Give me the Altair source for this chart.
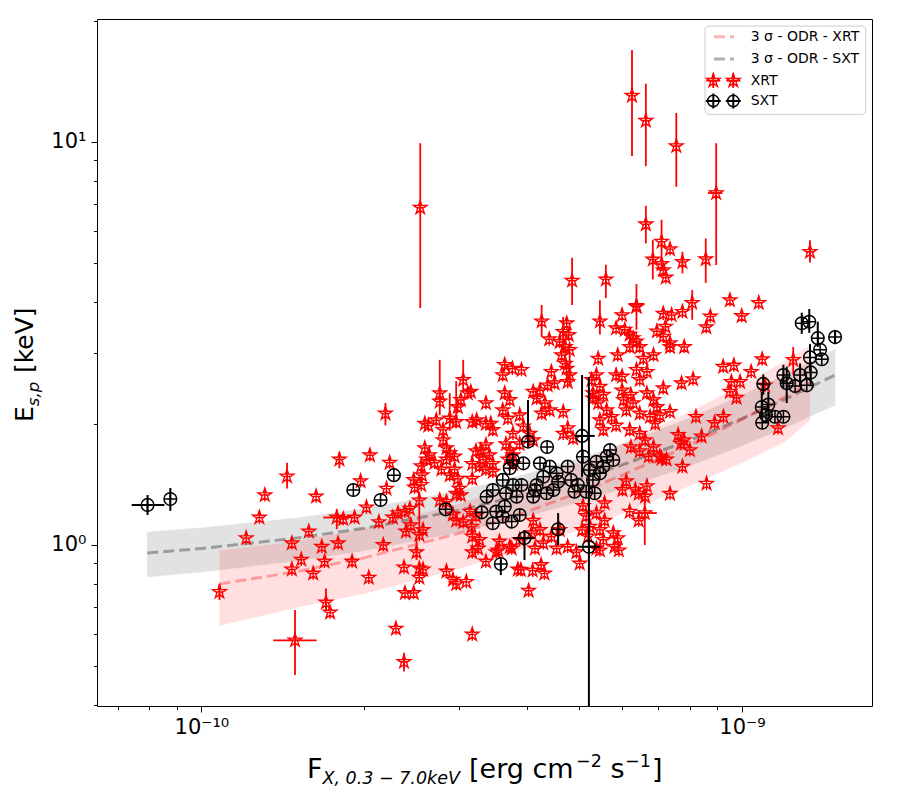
import altair as alt
import pandas as pd

# ---------------- data (flux in units of 1e-10 erg cm^-2 s^-1, Ep in keV) ----------------
xrt_points = [
    (1.80, 1.63), (1.44, 1.48), (1.31, 1.33), (1.63, 1.32), (1.28, 1.17), (1.21, 1.04), (1.47, 1.01),
    (1.58, 1.08), (1.78, 1.17), (1.92, 1.17), (1.67, 0.99), (1.79, 1.01), (1.53, 0.92), (1.47, 0.87),
    (1.69, 0.91), (1.61, 0.85), (1.90, 0.91), (1.08, 0.765), (1.70, 0.72), (1.73, 0.68), (1.49, 0.58),
    (2.19, 2.12), (2.05, 1.67), (2.23, 1.60), (1.97, 1.44), (2.20, 1.38), (2.02, 1.24), (1.83, 1.16),
    (2.13, 1.14), (2.17, 1.00), (2.04, 0.83), (2.29, 0.62), (2.37, 0.88), (2.38, 0.76), (2.47, 0.76),
    (2.53, 0.875), (2.57, 0.87), (2.50, 0.96), (2.53, 1.06), (2.57, 1.09), (2.39, 1.08), (2.44, 1.12),
    (2.26, 1.17), (2.31, 1.20), (2.38, 1.21), (2.43, 1.23), (2.53, 1.29), (2.47, 1.45), (2.55, 1.41),
    (2.48, 1.39), (2.59, 1.74), (2.61, 1.63), (2.64, 1.67), (2.70, 1.60), (2.55, 1.57), (2.56, 1.49),
    (2.59, 2.00), (2.63, 1.98), (2.76, 2.38), (2.76, 2.27), (2.72, 2.04), (2.80, 1.93), (2.88, 2.06),
    (2.96, 2.02), (2.80, 1.82), (2.84, 1.74), (2.88, 1.69), (2.94, 1.66), (2.84, 1.63), (2.78, 1.54),
    (2.88, 1.49), (2.94, 1.54), (2.98, 1.46), (2.76, 1.29), (2.84, 1.28), (2.96, 1.34), (3.02, 1.33),
    (3.00, 1.38), (2.92, 1.19), (2.96, 1.15), (3.05, 1.14), (2.84, 0.86), (2.92, 0.82), (2.96, 0.80),
    (3.09, 0.81), (3.05, 2.57), (3.11, 2.38), (3.15, 2.40), (3.02, 2.29), (2.98, 2.20), (3.17, 2.02),
    (3.23, 2.04), (3.36, 2.00), (3.43, 2.00), (3.46, 1.93), (3.36, 2.25), (3.22, 1.71), (3.29, 1.72),
    (3.36, 1.77), (3.41, 1.67), (3.46, 1.59), (3.32, 1.63), (3.17, 1.59), (3.27, 1.57), (3.36, 1.54),
    (3.46, 1.52), (3.17, 1.46), (3.14, 1.21), (3.22, 1.18), (3.16, 1.11), (3.17, 1.05), (3.27, 1.03),
    (3.25, 0.98), (3.17, 0.96), (3.36, 0.91), (3.51, 0.96), (3.56, 1.02), (3.76, 2.74), (3.64, 2.38),
    (3.72, 2.29), (3.61, 2.16), (3.69, 2.06), (3.66, 1.78), (3.72, 1.72), (3.77, 1.67), (3.69, 1.63),
    (3.77, 1.59), (3.75, 0.98), (3.17, 0.60), (3.85, 0.87),
    (2.53, 0.83), (2.37, 0.513), (3.54, 0.97), (3.90, 0.867), (4.10, 0.864), (4.25, 0.892), (4.31, 0.85),
    (4.03, 0.77), (4.54, 0.98), (4.94, 0.96), (5.01, 0.90), (5.38, 0.98), (5.92, 0.97),
    (4.26, 3.59), (4.40, 3.24), (4.67, 3.38), (4.78, 3.32), (4.60, 3.19), (4.71, 3.10), (4.80, 3.05),
    (4.64, 2.96), (4.71, 2.82), (4.74, 2.74), (4.80, 2.64), (4.76, 2.54), (5.46, 3.59), (6.38, 3.90),
    (6.00, 3.72), (5.85, 3.45), (6.07, 3.42), (6.20, 3.33), (6.29, 3.26), (6.38, 3.20), (6.47, 3.10),
    (6.20, 3.10), (7.15, 3.75), (7.41, 3.72), (7.22, 3.48), (6.96, 3.39), (7.15, 3.29), (7.36, 3.17),
    (6.86, 2.96), (6.57, 2.90), (6.38, 2.72), (6.67, 2.69), (6.47, 2.57), (5.89, 2.96), (5.85, 2.64),
    (6.00, 2.62), (5.42, 2.90), (5.38, 2.64), (5.27, 2.57), (5.46, 2.47), (5.30, 2.38), (5.54, 2.36),
    (5.42, 2.25), (5.30, 2.31), (3.64, 2.80), (3.91, 2.72), (3.61, 2.64), (4.44, 2.69), (4.37, 2.49),
    (4.50, 2.52), (4.11, 2.40), (4.23, 2.42), (4.17, 2.31), (4.32, 2.25), (4.41, 2.16), (4.67, 2.14),
    (4.26, 2.12), (6.00, 2.42), (6.23, 2.36), (6.04, 2.29), (6.29, 2.25), (6.11, 2.16), (6.47, 2.12),
    (6.67, 2.38), (6.86, 2.29), (7.15, 2.45), (6.96, 2.20), (7.36, 2.14), (7.05, 2.10), (6.76, 2.08),
    (6.91, 2.00), (5.62, 2.16), (5.74, 2.08), (5.85, 1.98), (5.46, 2.04), (5.54, 1.93), (4.76, 1.95),
    (4.67, 1.89), (4.87, 1.84), (3.88, 2.10), (3.94, 1.97), (4.05, 1.89), (4.11, 1.82), (3.77, 1.89),
    (3.88, 1.78), (6.20, 1.93), (6.47, 1.89), (6.62, 1.82), (6.86, 1.75), (6.72, 1.66), (7.05, 1.66),
    (7.25, 1.63), (6.47, 1.71), (6.23, 1.75), (6.11, 1.44), (6.01, 1.37), (6.35, 1.37), (6.44, 1.34),
    (6.67, 1.40), (6.62, 1.32), (6.61, 1.20), (6.20, 1.21), (6.44, 1.15), (7.36, 1.34), (5.78, 1.07),
    (5.89, 1.04), (5.81, 0.99), (5.38, 1.20), (5.57, 1.15), (5.46, 1.09), (5.54, 1.03), (5.08, 1.25),
    (5.15, 1.18), (5.23, 1.11), (5.06, 1.09), (5.19, 1.05), (4.60, 1.09), (4.44, 1.05), (4.76, 0.99),
    (4.11, 1.15), (4.23, 1.09), (4.08, 1.07), (4.29, 1.01), (4.14, 0.98), (3.72, 0.99), (3.88, 1.03),
    (8.60, 1.42), (5.57, 1.27), (5.46, 0.97),
    (13.36, 5.34), (7.10, 5.66), (7.36, 5.42), (7.76, 5.04), (8.57, 5.12), (7.10, 4.98), (7.15, 4.81),
    (7.23, 4.61), (9.50, 4.05), (10.74, 3.99), (9.99, 3.70), (8.09, 3.99), (7.76, 3.79), (8.74, 3.69),
    (8.59, 3.47), (7.36, 3.10), (7.82, 3.10), (12.44, 2.88), (10.90, 2.89), (9.23, 2.77), (9.66, 2.79),
    (10.40, 2.69), (9.56, 2.54), (9.92, 2.54), (7.73, 2.52), (8.12, 2.58), (9.50, 2.40), (9.77, 2.32),
    (11.03, 2.49), (8.22, 2.08), (8.90, 2.01), (9.24, 2.08), (7.62, 1.875), (7.81, 1.82), (7.71, 1.785),
    (8.01, 1.72), (8.42, 1.86), (7.10, 1.64), (7.76, 1.565), (11.66, 1.95),
    (2.54, 6.87), (6.26, 13.03), (6.64, 11.29), (7.56, 9.77), (6.64, 6.25), (6.84, 5.11), (4.85, 4.53),
    (5.60, 4.56), (6.38, 3.92), (4.74, 3.55), (8.96, 7.47),
]

# vertical error bars of XRT points: (flux, Ep low, Ep high)
xrt_vbars = [
    (1.44, 1.38, 1.60), (1.08, 0.73, 0.80), (1.70, 0.69, 0.78), (1.78, 1.095, 1.228), (1.49, 0.476, 0.69),
    (1.80, 1.55, 1.70), (2.19, 1.98, 2.25), (2.76, 2.10, 2.88), (2.53, 1.09, 1.35), (2.37, 0.485, 0.54),
    (2.50, 0.918, 1.029), (2.88, 1.92, 2.38), (2.96, 1.95, 2.55), (3.05, 2.40, 2.88), (4.26, 3.29, 3.94),
    (4.67, 3.05, 3.68), (4.80, 2.49, 2.97), (5.46, 3.33, 4.05), (6.61, 1.00, 1.37), (13.36, 5.02, 5.70),
    (7.10, 5.10, 6.41), (7.76, 4.72, 5.34), (8.57, 4.47, 5.76), (8.09, 3.62, 4.29), (2.54, 3.87, 9.93),
    (6.26, 9.23, 16.92), (6.64, 8.71, 13.95), (7.56, 7.74, 11.80), (6.64, 5.60, 6.94), (6.84, 4.56, 5.71),
    (4.85, 3.94, 5.16), (5.60, 4.10, 4.96), (6.38, 3.42, 4.44), (8.96, 4.95, 9.93), (12.44, 2.65, 3.10),
]
# horizontal error bars of XRT points: (Ep, flux low, flux high)
xrt_hbars = [
    (1.17, 1.68, 1.86), (0.58, 1.358, 1.633), (1.20, 6.29, 6.96), (7.47, 8.65, 9.20),
]

sxt_points = [
    (0.795, 1.257), (0.876, 1.30), (1.91, 1.369), (2.145, 1.293), (2.27, 1.49), (2.83, 1.226),
    (3.30, 1.205), (3.58, 0.897), (3.37, 1.318), (3.46, 1.369), (3.51, 1.21), (3.46, 1.132),
    (5.06, 1.865), (5.21, 0.99), (4.02, 1.805), (4.36, 1.75), (3.96, 1.04), (4.57, 1.094), (3.88, 1.187),
    (3.77, 1.625), (3.94, 1.594), (3.72, 1.55), (3.61, 1.45), (3.77, 1.409), (3.91, 1.409), (3.66, 1.344),
    (3.83, 1.318), (3.64, 1.245), (3.61, 1.175), (3.75, 1.143), (4.11, 1.318), (4.17, 1.409),
    (4.29, 1.477), (4.41, 1.565), (4.54, 1.506), (4.57, 1.436), (4.48, 1.369), (4.35, 1.344),
    (4.76, 1.565), (4.83, 1.45), (4.90, 1.356), (4.97, 1.409), (5.08, 1.656), (5.23, 1.535),
    (5.30, 1.45), (5.38, 1.609), (5.46, 1.506), (5.34, 1.344), (5.15, 1.356), (5.54, 1.565),
    (5.62, 1.656), (5.70, 1.72), (5.78, 1.625), (4.23, 1.594), (4.14, 1.369),
    (12.9, 3.55), (13.32, 3.58), (13.81, 3.26), (14.87, 3.28), (13.95, 3.05), (14.05, 2.89),
    (13.36, 2.92), (13.40, 2.68), (11.93, 2.64), (12.1, 2.52), (12.81, 2.64), (12.54, 2.48),
    (13.18, 2.49), (10.95, 2.51), (10.88, 2.20), (11.19, 2.23), (11.08, 2.10), (11.51, 2.08),
    (11.93, 2.08), (10.90, 2.01),
]
sxt_vbars = [
    (0.795, 1.187, 1.33), (0.876, 1.215, 1.385), (3.58, 0.842, 0.918), (5.06, 1.477, 2.64),
    (5.21, 0.30, 2.61), (4.02, 1.755, 2.29), (3.96, 0.918, 1.089), (4.57, 1.00, 1.20),
    (12.9, 3.34, 3.77), (13.32, 3.36, 3.85), (12.1, 2.25, 2.77), (10.95, 2.36, 2.65),
    (13.81, 3.10, 3.58), (14.87, 3.15, 3.42), (13.36, 2.70, 3.15), (13.40, 2.50, 2.85),
    (11.93, 2.45, 2.80), (12.81, 2.47, 2.82), (11.19, 2.05, 2.40), (10.88, 2.08, 2.40),
]
sxt_hbars = [
    (1.257, 0.743, 0.854), (1.865, 4.95, 5.34), (0.99, 4.97, 5.46), (1.04, 3.77, 4.14),
]

# 3-sigma ODR fits: flux, lower, line, upper
xrt_fit_flux = [1.08, 1.5, 2, 3, 4, 5, 6, 8, 10, 12, 13.36]
xrt_fit_line = [0.80, 0.859, 0.929, 1.069, 1.209, 1.349, 1.489, 1.769, 2.049, 2.329, 2.52]
xrt_fit_lo = [0.63, 0.70, 0.757, 0.873, 0.984, 1.09, 1.196, 1.40, 1.60, 1.80, 2.04]
xrt_fit_hi = [0.97, 1.02, 1.10, 1.265, 1.434, 1.607, 1.782, 2.137, 2.495, 2.855, 3.12]

sxt_fit_flux = [0.794, 1, 1.5, 2, 3, 4, 5, 6, 8, 10, 12, 14.87]
sxt_fit_line = [0.955, 0.98, 1.04, 1.10, 1.219, 1.339, 1.459, 1.579, 1.818, 2.058, 2.298, 2.641]
sxt_fit_lo = [0.833, 0.857, 0.913, 0.968, 1.074, 1.178, 1.278, 1.378, 1.571, 1.763, 1.952, 2.222]
sxt_fit_hi = [1.077, 1.103, 1.167, 1.232, 1.364, 1.50, 1.64, 1.78, 2.065, 2.353, 2.644, 3.06]

x_ticks = [7e-11, 8e-11, 9e-11, 1e-10, 2e-10, 3e-10, 4e-10, 5e-10, 6e-10, 7e-10, 8e-10, 9e-10, 1e-9]
y_ticks = [0.4, 0.5, 0.6, 0.7, 0.8, 0.9, 1, 2, 3, 4, 5, 6, 7, 8, 9, 10, 20]

legend_labels = ["3 σ - ODR - XRT", "3 σ - ODR - SXT", "XRT", "SXT"]

# ---------------- tables ----------------
U = 1e-10
xrt_df = pd.DataFrame({"flux": [p[0] * U for p in xrt_points], "ep": [p[1] for p in xrt_points]})
sxt_df = pd.DataFrame({"flux": [p[0] * U for p in sxt_points], "ep": [p[1] for p in sxt_points]})
xrt_vb = pd.DataFrame({"flux": [b[0] * U for b in xrt_vbars], "lo": [b[1] for b in xrt_vbars], "hi": [b[2] for b in xrt_vbars]})
xrt_hb = pd.DataFrame({"ep": [b[0] for b in xrt_hbars], "lo": [b[1] * U for b in xrt_hbars], "hi": [b[2] * U for b in xrt_hbars]})
sxt_vb = pd.DataFrame({"flux": [b[0] * U for b in sxt_vbars], "lo": [b[1] for b in sxt_vbars], "hi": [b[2] for b in sxt_vbars]})
sxt_hb = pd.DataFrame({"ep": [b[0] for b in sxt_hbars], "lo": [b[1] * U for b in sxt_hbars], "hi": [b[2] * U for b in sxt_hbars]})
xrt_fit = pd.DataFrame({"flux": [f * U for f in xrt_fit_flux], "line": xrt_fit_line, "lo": xrt_fit_lo, "hi": xrt_fit_hi})
sxt_fit = pd.DataFrame({"flux": [f * U for f in sxt_fit_flux], "line": sxt_fit_line, "lo": sxt_fit_lo, "hi": sxt_fit_hi})

# ---------------- scales / axes ----------------
FONT = "DejaVu Sans"
xscale = alt.Scale(type="log", domain=[6.41e-11, 1.74e-9], nice=False)
yscale = alt.Scale(type="log", domain=[0.3985, 20.19], nice=False)
major_test = "abs(log(datum.value)/LN10 - round(log(datum.value)/LN10)) < 0.001"
xaxis = alt.Axis(
    title="", values=x_ticks, grid=False, domain=False,
    labelExpr="abs(log(datum.value)/LN10 + 10) < 0.01 ? '10⁻¹⁰' : (abs(log(datum.value)/LN10 + 9) < 0.01 ? '10⁻⁹' : '')",
    tickSize={"condition": {"test": major_test, "value": 6}, "value": 3.5},
    tickColor="black", tickWidth=1, labelFont=FONT, labelFontSize=21, labelColor="black",
    labelPadding=4, labelOverlap=False, labelFlush=False, labelBound=False,
)
yaxis = alt.Axis(
    title="", values=y_ticks, grid=False, domain=False,
    labelExpr="abs(log(datum.value)/LN10) < 0.01 ? '10⁰' : (abs(log(datum.value)/LN10 - 1) < 0.01 ? '10¹' : '')",
    tickSize={"condition": {"test": major_test, "value": 6}, "value": 3.5},
    tickColor="black", tickWidth=1, labelFont=FONT, labelFontSize=21, labelColor="black",
    labelPadding=5, labelOverlap=False, labelFlush=False, labelBound=False,
)

def X(field):
    return alt.X(field, type="quantitative", scale=xscale, axis=xaxis)

def Y(field):
    return alt.Y(field, type="quantitative", scale=yscale, axis=yaxis)

STAR = ("M0,-1L0.225,-0.309L0.951,-0.309L0.363,0.118L0.588,0.809L0,0.382L-0.588,0.809"
        "L-0.363,0.118L-0.951,-0.309L-0.225,-0.309ZM0,-1L0,0.9M-0.55,0L0.55,0")
PLUS = "M-1,0L1,0M0,-1L0,1"
STAR_SIZE = 200
CIRC_SIZE = 160

# ---------------- layers ----------------
sxt_band = alt.Chart(sxt_fit).mark_area(color="#808080", opacity=0.22, stroke="#808080", strokeOpacity=0.3, strokeWidth=1).encode(
    x=X("flux"), y=Y("lo"), y2="hi")
xrt_band = alt.Chart(xrt_fit).mark_area(color="red", opacity=0.12, stroke="red", strokeOpacity=0.12, strokeWidth=1).encode(
    x=X("flux"), y=Y("lo"), y2="hi")
sxt_line = alt.Chart(sxt_fit).mark_line(color="black", opacity=0.31, strokeWidth=3, strokeDash=[11, 5]).encode(
    x=X("flux"), y=Y("line"))
xrt_line = alt.Chart(xrt_fit).mark_line(color="red", opacity=0.3, strokeWidth=3, strokeDash=[11, 5]).encode(
    x=X("flux"), y=Y("line"))

xrt_v = alt.Chart(xrt_vb).mark_rule(color="red", strokeWidth=1.8, clip=True).encode(x=X("flux"), y=Y("lo"), y2="hi")
xrt_h = alt.Chart(xrt_hb).mark_rule(color="red", strokeWidth=1.8, clip=True).encode(x=X("lo"), x2="hi", y=Y("ep"))
xrt_pts = alt.Chart(xrt_df).mark_point(shape=STAR, size=STAR_SIZE, filled=False, color="red", strokeWidth=1.4, opacity=1).encode(
    x=X("flux"), y=Y("ep"))

sxt_v = alt.Chart(sxt_vb).mark_rule(color="black", strokeWidth=2, clip=True).encode(x=X("flux"), y=Y("lo"), y2="hi")
sxt_h = alt.Chart(sxt_hb).mark_rule(color="black", strokeWidth=2, clip=True).encode(x=X("lo"), x2="hi", y=Y("ep"))
sxt_c = alt.Chart(sxt_df).mark_point(shape="circle", size=CIRC_SIZE, filled=False, color="black", strokeWidth=1.5, opacity=1).encode(
    x=X("flux"), y=Y("ep"))
sxt_p = alt.Chart(sxt_df).mark_point(shape=PLUS, size=CIRC_SIZE, filled=False, color="black", strokeWidth=1.5, opacity=1).encode(
    x=X("flux"), y=Y("ep"))

# ---------------- legend (drawn inside the plot, upper right) ----------------
one = pd.DataFrame({"k": [0]})
lg_box = alt.Chart(one).mark_rect(fill="white", fillOpacity=0.85, stroke="#cccccc", strokeWidth=1, cornerRadius=4).encode(
    x=alt.value(608), x2=alt.value(768.7), y=alt.value(7), y2=alt.value(95.3))
lg_pink = alt.Chart(one).mark_rule(color="red", opacity=0.3, strokeWidth=3, strokeDash=[11, 5]).encode(
    x=alt.value(617), x2=alt.value(637), y=alt.value(17.7))
lg_gray = alt.Chart(one).mark_rule(color="black", opacity=0.31, strokeWidth=3, strokeDash=[11, 5]).encode(
    x=alt.value(617), x2=alt.value(637), y=alt.value(40))
lg_layers = [lg_box, lg_pink, lg_gray]
for cx in (616.3, 636.3):
    lg_layers += [
        alt.Chart(one).mark_rule(color="red", strokeWidth=1.8).encode(x=alt.value(cx - 7), x2=alt.value(cx + 7), y=alt.value(61.7)),
        alt.Chart(one).mark_rule(color="red", strokeWidth=1.8).encode(x=alt.value(cx), y=alt.value(54.5), y2=alt.value(69)),
        alt.Chart(one).mark_point(shape=STAR, size=STAR_SIZE, filled=False, color="red", strokeWidth=1.4, opacity=1).encode(
            x=alt.value(cx), y=alt.value(61.7)),
        alt.Chart(one).mark_rule(color="black", strokeWidth=2).encode(x=alt.value(cx - 7.5), x2=alt.value(cx + 7.5), y=alt.value(82)),
        alt.Chart(one).mark_rule(color="black", strokeWidth=2).encode(x=alt.value(cx), y=alt.value(74.5), y2=alt.value(89.5)),
        alt.Chart(one).mark_point(shape="circle", size=CIRC_SIZE * 0.8, filled=False, color="black", strokeWidth=1.5, opacity=1).encode(
            x=alt.value(cx), y=alt.value(82)),
    ]
for lab, ty in zip(legend_labels, [17.7, 40, 61.7, 82]):
    lg_layers.append(alt.Chart(one).mark_text(text=lab, align="left", baseline="middle", font=FONT, fontSize=14, color="black").encode(
        x=alt.value(653.7), y=alt.value(ty)))

# ---------------- axis titles (with sub/superscripts) ----------------
x_title = [("F", 210, 759, 27, "normal"), ("X, 0.3 − 7.0keV", 225.5, 765, 17.5, "italic"),
           ("[erg cm", 372, 759, 27, "normal"), ("−2", 479, 748, 17.5, "normal"),
           ("s", 513.6, 759, 27, "normal"), ("−1", 528, 748, 17.5, "normal"), ("]", 555, 759, 27, "normal")]
y_title = [("E", -64, 403, 25, "normal"), ("s,p", -58.5, 387.2, 16.5, "italic"), ("[keV]", -64, 354, 25, "normal")]
title_layers = []
for t, tx, ty, fs, st in x_title:
    title_layers.append(alt.Chart(one).mark_text(text=t, align="left", baseline="alphabetic", font=FONT, fontSize=fs,
                                                 fontStyle=st, color="black").encode(x=alt.value(tx), y=alt.value(ty)))
for t, tx, ty, fs, st in y_title:
    title_layers.append(alt.Chart(one).mark_text(text=t, align="left", baseline="alphabetic", font=FONT, fontSize=fs,
                                                 fontStyle=st, angle=270, color="black").encode(x=alt.value(tx), y=alt.value(ty)))

chart = alt.layer(
    sxt_band, xrt_band, sxt_line, xrt_line,
    xrt_v, xrt_h, xrt_pts,
    sxt_v, sxt_h, sxt_c, sxt_p,
    *lg_layers, *title_layers,
).properties(
    width=775, height=687,
    autosize=alt.AutoSizeParams(type="none"),
    padding={"left": 89, "top": 11, "right": 20, "bottom": 95},
).configure(
    background="white", font=FONT
).configure_view(
    stroke="black", strokeWidth=1, fill="white"
)

chart.save("out.html", embed_options={"renderer": "svg", "actions": False})
